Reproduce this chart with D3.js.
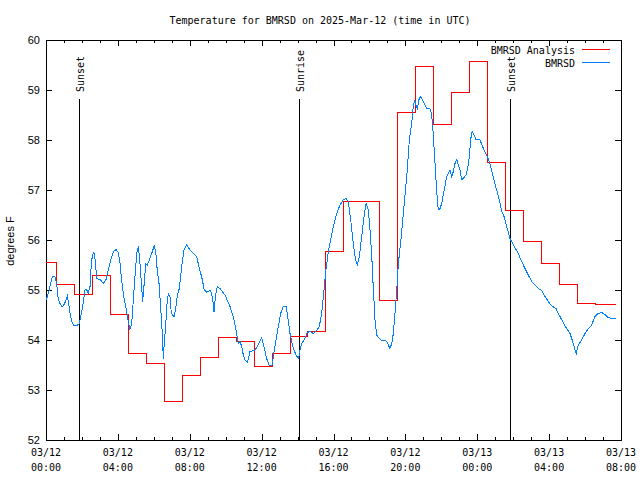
<!DOCTYPE html>
<html><head><meta charset="utf-8">
<script src="https://cdn.jsdelivr.net/npm/d3@7"></script>
<style>body{margin:0;background:#fff}text{font-family:"DejaVu Sans Mono",monospace;font-size:10px;fill:#000}</style>
</head><body><svg id="c" width="640" height="480"></svg>
<script>
const chartTitle = "Temperature for BMRSD on 2025-Mar-12 (time in UTC)";
const yLabel = "degrees F";
const seriesNames = ["BMRSD Analysis", "BMRSD"];
const seriesColors = ["#ff0000", "#0080ff"];
const startUTC = Date.UTC(2025, 2, 12, 0, 0);
const endHour = 32;
const yTicks = [52, 53, 54, 55, 56, 57, 58, 59, 60];

// Analysis (red) step values: [hour offset where value begins, value]
const analysisSteps = [
  [0,55.55],[0.58,55.12],[1.58,54.92],[2.58,55.3],[3.58,54.51],[4.58,53.73],[5.58,53.53],[6.58,52.77],
  [7.58,53.29],[8.58,53.66],[9.58,54.05],[10.58,53.98],[11.58,53.48],[12.58,53.73],[13.58,54.08],[14.58,54.18],
  [15.58,55.78],[16.58,56.77],[17.58,56.77],[18.58,54.8],[19.58,58.55],[20.58,59.48],[21.58,58.31],[22.58,58.95],
  [23.58,59.57],[24.58,57.55],[25.58,56.59],[26.58,55.97],[27.58,55.54],[28.58,55.11],[29.58,54.74],[30.58,54.71],
  [31.70,54.71]
];

// Observations (blue): [hour offset, temperature]
const observations = [
  [0.00,54.80],[0.04,54.83],[0.18,55.0],[0.32,55.23],[0.41,55.28],[0.50,55.27],[0.60,55.1],[0.68,54.83],[0.78,54.73],[0.87,54.67],[0.96,54.68],
  [1.06,54.75],[1.19,54.88],[1.24,54.77],[1.34,54.53],[1.43,54.37],[1.52,54.3],[1.71,54.29],[1.84,54.32],[1.89,54.4],[1.99,54.57],
  [2.08,54.77],[2.17,55.0],[2.26,55.01],[2.35,54.93],[2.45,55.07],[2.50,55.4],[2.58,55.7],[2.67,55.75],[2.74,55.6],[2.82,55.23],
  [3.01,55.21],[3.19,55.13],[3.34,55.21],[3.47,55.4],[3.60,55.6],[3.75,55.77],[3.90,55.81],[4.02,55.75],[4.12,55.53],[4.21,55.2],
  [4.30,54.93],[4.40,54.73],[4.49,54.57],[4.58,54.37],[4.67,54.21],[4.77,54.33],[4.86,54.8],[4.95,55.27],[5.05,55.73],[5.14,55.87],
  [5.23,55.53],[5.33,55.03],[5.38,54.77],[5.45,55.07],[5.55,55.53],[5.64,55.5],[5.75,55.6],[5.88,55.73],[6.03,55.89],[6.12,55.7],
  [6.19,55.4],[6.29,55.13],[6.38,54.67],[6.46,54.2],[6.53,53.63],[6.58,53.93],[6.66,54.27],[6.72,54.67],[6.81,54.93],[6.90,54.87],
  [6.96,54.6],[7.03,54.5],[7.14,54.47],[7.23,54.67],[7.31,54.9],[7.42,55.03],[7.55,55.47],[7.68,55.8],[7.83,55.9],[8.01,55.8],
  [8.24,55.72],[8.39,55.67],[8.53,55.43],[8.66,55.27],[8.81,55.0],[8.94,54.96],[9.17,54.99],[9.28,54.8],[9.35,54.57],[9.44,54.9],
  [9.53,55.07],[9.68,55.03],[9.96,54.9],[10.24,54.67],[10.42,54.47],[10.61,54.13],[10.70,53.93],[10.80,53.97],[10.89,53.87],[10.98,53.7],
  [11.07,53.6],[11.21,53.55],[11.35,53.77],[11.63,53.8],[11.81,53.9],[12.00,54.05],[12.09,53.93],[12.28,53.63],[12.41,53.5],[12.58,53.5],
  [12.74,53.87],[12.93,54.27],[13.06,54.53],[13.21,54.68],[13.36,54.68],[13.48,54.4],[13.58,54.13],[13.73,53.87],[13.91,53.7],[14.06,53.63],
  [14.13,53.8],[14.23,53.93],[14.41,54.03],[14.54,54.15],[14.69,54.17],[14.88,54.13],[15.06,54.19],[15.21,54.27],[15.34,54.53],[15.47,55.0],
  [15.58,55.4],[15.71,55.77],[15.84,56.0],[15.99,56.27],[16.18,56.53],[16.36,56.7],[16.54,56.8],[16.69,56.83],[16.82,56.77],[16.96,56.4],
  [17.10,55.93],[17.23,55.6],[17.32,55.5],[17.44,55.67],[17.57,56.07],[17.70,56.47],[17.81,56.73],[17.94,56.6],[18.03,56.2],[18.13,55.67],
  [18.21,55.07],[18.31,54.4],[18.40,54.1],[18.55,54.03],[18.68,53.99],[18.87,54.0],[18.99,53.95],[19.14,53.83],[19.24,53.93],[19.33,54.13],
  [19.42,54.53],[19.52,55.0],[19.61,55.53],[19.76,56.03],[19.87,56.47],[19.98,56.9],[20.09,57.33],[20.22,58.0],[20.35,58.33],[20.44,58.67],
  [20.52,58.8],[20.59,58.7],[20.66,58.63],[20.77,58.83],[20.85,58.87],[20.96,58.8],[21.09,58.7],[21.19,58.63],[21.37,58.62],[21.46,58.53],
  [21.55,58.13],[21.65,57.53],[21.74,57.0],[21.83,56.6],[21.93,56.63],[22.02,56.73],[22.11,56.9],[22.20,57.07],[22.30,57.27],[22.39,57.33],
  [22.48,57.4],[22.58,57.27],[22.67,57.37],[22.76,57.53],[22.86,57.61],[22.95,57.5],[23.04,57.4],[23.13,57.21],[23.22,57.23],[23.37,57.3],
  [23.47,57.43],[23.56,57.67],[23.63,58.0],[23.71,58.17],[23.82,58.1],[23.93,58.01],[24.15,58.01],[24.26,57.9],[24.38,57.8],[24.52,57.7],
  [24.67,57.57],[24.80,57.4],[24.93,57.2],[25.08,57.0],[25.23,56.8],[25.36,56.57],[25.49,56.47],[25.64,56.27],[25.82,56.03],[26.06,55.87],
  [26.28,55.73],[26.47,55.57],[26.66,55.43],[26.84,55.3],[27.03,55.17],[27.21,55.1],[27.40,55.03],[27.59,54.99],[27.77,54.87],[27.95,54.77],
  [28.14,54.68],[28.38,54.63],[28.56,54.5],[28.75,54.37],[28.94,54.25],[29.16,54.13],[29.31,53.97],[29.42,53.83],[29.51,53.73],[29.62,53.9],
  [29.81,54.0],[30.00,54.13],[30.18,54.23],[30.37,54.3],[30.55,54.47],[30.73,54.53],[30.92,54.55],[31.10,54.51],[31.28,54.45],[31.48,54.43],
  [31.70,54.43]
];

// Sun events: [label, hour offset]
const sunEvents = [["Sunset", 1.85], ["Sunrise", 14.1], ["Sunset", 25.84]];

const toDate = h => new Date(startUTC + h * 3600e3);
const svg = d3.select("#c");
const M = {l: 46, r: 621, t: 40, b: 440};

const x = d3.scaleUtc().domain([toDate(0), toDate(endHour)]).range([M.l, M.r]);
const y = d3.scaleLinear().domain([52, 60]).range([M.b, M.t]);

svg.append("rect").attr("width", 640).attr("height", 480).attr("fill", "#fff");

// Title
svg.append("text").attr("x", 320).attr("y", 24).attr("text-anchor", "middle").text(chartTitle);

// Y label
svg.append("text").attr("transform", "translate(14,241) rotate(-90)").attr("text-anchor", "middle")
  .style("font-family", "'Liberation Sans',Arial,sans-serif").style("font-size", "11px").text(yLabel);

const crisp = v => Math.round(v) + 0.5;

// Ticks
const g = svg.append("g").attr("stroke", "#000").attr("stroke-width", 1).attr("shape-rendering", "crispEdges");
const hourTicks = x.ticks(d3.utcHour.every(1));
hourTicks.forEach(d => {
  const major = d.getUTCHours() % 4 === 0;
  const L = major ? 6 : 3;
  const xx = crisp(x(d));
  g.append("line").attr("x1", xx).attr("x2", xx).attr("y1", M.b).attr("y2", M.b - L);
  g.append("line").attr("x1", xx).attr("x2", xx).attr("y1", M.t).attr("y2", M.t + L);
});
yTicks.forEach(v => {
  const yy = crisp(y(v));
  g.append("line").attr("x1", M.l).attr("x2", M.l + 6).attr("y1", yy).attr("y2", yy);
  g.append("line").attr("x1", M.r).attr("x2", M.r - 6).attr("y1", yy).attr("y2", yy);
});

// Tick labels
const fmtD = d3.utcFormat("%m/%d"), fmtT = d3.utcFormat("%H:%M");
x.ticks(d3.utcHour.every(4)).forEach(d => {
  const xx = x(d);
  svg.append("text").attr("x", xx).attr("y", 456).attr("text-anchor", "middle").text(fmtD(d));
  svg.append("text").attr("x", xx).attr("y", 471).attr("text-anchor", "middle").text(fmtT(d));
});
yTicks.forEach(v => {
  svg.append("text").attr("x", 40).attr("y", y(v) + 4).attr("text-anchor", "end")
    .style("font-family", "'Liberation Sans',Arial,sans-serif").style("font-size", "11px").text(v);
});

// Sun event lines
sunEvents.forEach(([lab, h]) => {
  const xx = crisp(x(toDate(h)));
  g.append("line").attr("x1", xx).attr("x2", xx).attr("y1", 99).attr("y2", M.b);
  svg.append("text").attr("transform", `translate(${xx + 4},92) rotate(-90)`).attr("text-anchor", "start").text(lab);
});

// Data lines
svg.append("clipPath").attr("id", "pc").append("rect")
  .attr("x", M.l).attr("y", M.t).attr("width", M.r - M.l).attr("height", M.b - M.t);

const stepLine = d3.line().curve(d3.curveStepAfter).x(d => x(toDate(d[0]))).y(d => y(d[1]));
const obsLine = d3.line().x(d => x(toDate(d[0]))).y(d => y(d[1]));

svg.append("path").datum(analysisSteps).attr("d", stepLine).attr("fill", "none")
  .attr("stroke", seriesColors[0]).attr("stroke-width", 1).attr("shape-rendering", "crispEdges").attr("clip-path", "url(#pc)");
svg.append("path").datum(observations).attr("d", obsLine).attr("fill", "none")
  .attr("stroke", seriesColors[1]).attr("stroke-width", 1).attr("shape-rendering", "crispEdges").attr("clip-path", "url(#pc)");

// Frame
g.append("rect").attr("x", M.l + 0.5).attr("y", M.t + 0.5).attr("width", M.r - M.l).attr("height", M.b - M.t).attr("fill", "none");

// Legend
seriesNames.forEach((n, i) => {
  const ly = 50 + i * 13;
  svg.append("text").attr("x", 575).attr("y", ly + 4).attr("text-anchor", "end").text(n);
  svg.append("line").attr("x1", 582).attr("x2", 610).attr("y1", ly - 0.5).attr("y2", ly - 0.5)
    .attr("stroke", seriesColors[i]).attr("stroke-width", 1).attr("shape-rendering", "crispEdges");
});
</script></body></html>
